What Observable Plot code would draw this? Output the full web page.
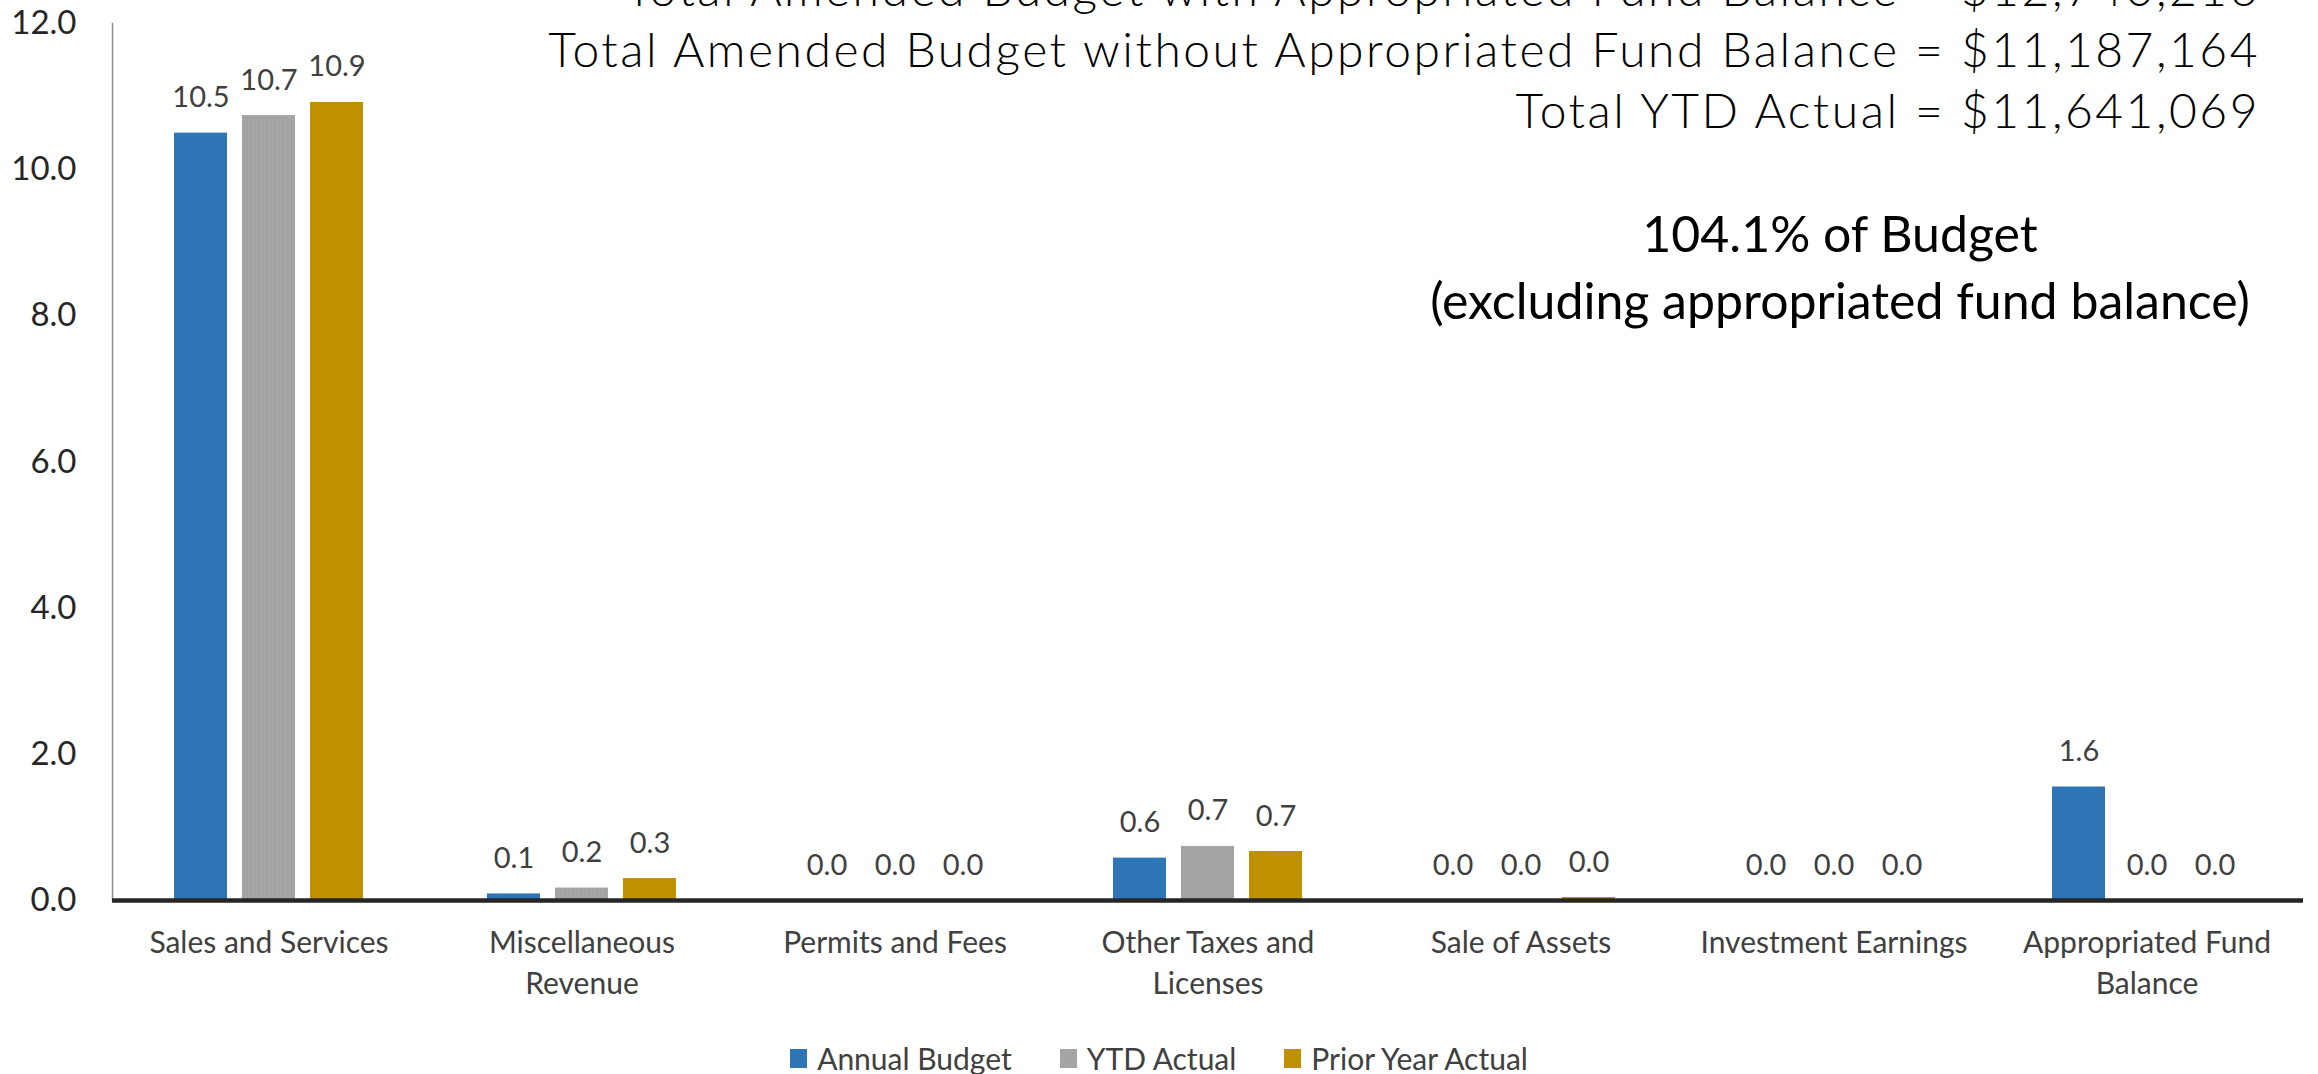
<!DOCTYPE html>
<html>
<head>
<meta charset="utf-8">
<script src="https://cdn.jsdelivr.net/npm/d3@7"></script>
<script src="https://cdn.jsdelivr.net/npm/@observablehq/plot@0.6"></script>
<style>
  html, body { margin: 0; padding: 0; background: #fff; }
  body { width: 2318px; height: 1074px; overflow: hidden; position: relative; font-family: Lato, "Open Sans", sans-serif; }
  #chart svg { display: block; }
  #legend { position: absolute; left: 0; top: 1040px; width: 2318px; display: flex; justify-content: center; }
  #legend span[class$="-swatch"] { margin-right: 48px !important; color: #404040; }
  #legend span[class$="-swatch"]:last-child { margin-right: 0 !important; }
  #legend span[class$="-swatch"] > svg { margin-right: 10px !important; }
  #totals { position: absolute; right: 58px; top: -43px; font-size: 48px; font-weight: 300; letter-spacing: 2.5px; line-height: 61px; text-align: right; color: #000; white-space: pre; }
  #pct { position: absolute; left: 1340px; width: 1000px; top: 200px; font-size: 50px; line-height: 67px; text-align: center; color: #000; white-space: pre; }
</style>
</head>
<body>
<div id="chart"></div>
<div id="legend"></div>
<div id="totals"></div>
<div id="pct"></div>
<script>
// ---- data ----
const categories = ["Sales and Services", "Miscellaneous Revenue", "Permits and Fees", "Other Taxes and Licenses", "Sale of Assets", "Investment Earnings", "Appropriated Fund Balance"];
const categoryLabels = ["Sales and Services", "Miscellaneous\nRevenue", "Permits and Fees", "Other Taxes and\nLicenses", "Sale of Assets", "Investment Earnings", "Appropriated Fund\nBalance"];
const series = ["Annual Budget", "YTD Actual", "Prior Year Actual"];
const annualBudget    = [10.50, 0.09, 0.00, 0.58, 0.00, 0.00, 1.553];
const ytdActual       = [10.74, 0.17, 0.00, 0.74, 0.00, 0.00, 0.00];
const priorYearActual = [10.92, 0.30, 0.00, 0.67, 0.04, 0.00, 0.00];
const yTicks = [0, 2, 4, 6, 8, 10, 12];
const seriesColors = ["#2E75B6", "#A5A5A5", "#BF9000"];
const totalsLines = [
  "Total Amended Budget with Appropriated Fund Balance = $12,740,216",
  "Total Amended Budget without Appropriated Fund Balance = $11,187,164",
  "Total YTD Actual = $11,641,069"
];
const pctLines = ["104.1% of Budget", "(excluding appropriated fund balance)"];

// ---- table built from arrays ----
const seriesValues = [annualBudget, ytdActual, priorYearActual];
const rows = [];
categories.forEach((c, i) => {
  series.forEach((s, j) => rows.push({category: c, series: s, value: seriesValues[j][i]}));
});
const fmt = d3.format(".1f");

const plot = Plot.plot({
  width: 2318,
  height: 1030,
  marginLeft: 110,
  marginRight: 13,
  marginTop: 23,
  marginBottom: 130,
  style: {fontFamily: "Lato, 'Open Sans', sans-serif", background: "white", color: "#404040", overflow: "visible"},
  fx: {domain: categories, padding: 0, axis: null},
  x: {domain: series, paddingInner: 0.22, paddingOuter: 0.88, axis: null},
  y: {domain: [0, 12], label: null},
  color: {domain: series, range: seriesColors},
  marks: [
    Plot.axisY({ticks: yTicks, tickFormat: fmt, tickSize: 0, tickPadding: 36, fontSize: 33, fill: "#262626", label: null}),
    Plot.frame({anchor: "left", facetAnchor: "left", stroke: "#8c8c8c", strokeWidth: 1.5}),
    Plot.barY(rows, {fx: "category", x: "series", y: "value", fill: "series"}),
    Plot.barY(rows.filter(d => d.series === "YTD Actual"), {fx: "category", x: "series", y: "value", fill: "url(#ytdDots)"}),
    Plot.ruleY([0], {stroke: "#262626", strokeWidth: 4.5}),
    Plot.text(rows, {fx: "category", x: "series", y: "value", text: d => fmt(d.value), lineAnchor: "bottom", dy: -26, fontSize: 29, fill: "#404040"}),
    Plot.text(categories, {fx: d => d, text: (d, i) => categoryLabels[i], frameAnchor: "bottom", lineAnchor: "top", dy: 23, lineHeight: 1.37, fontSize: 30, fill: "#404040"})
  ]
});

// dotted texture for the grey series
const svg = d3.select(plot);
const pat = svg.insert("defs", ":first-child").append("pattern")
  .attr("id", "ytdDots").attr("width", 4).attr("height", 4).attr("patternUnits", "userSpaceOnUse");
pat.append("rect").attr("x", 1).attr("y", 1).attr("width", 1).attr("height", 1).attr("fill", "#8a8a8a").attr("opacity", 0.7);

document.getElementById("chart").appendChild(plot);

// legend
const legend = Plot.legend({
  color: {domain: series, range: seriesColors},
  legend: "swatches",
  swatchWidth: 17,
  swatchHeight: 19,
  style: {fontSize: "30px", fontFamily: "Lato, 'Open Sans', sans-serif", color: "#404040", margin: 0}
});
document.getElementById("legend").appendChild(legend);

// annotations
document.getElementById("totals").textContent = totalsLines.join("\n");
document.getElementById("pct").textContent = pctLines.join("\n");
</script>
</body>
</html>
